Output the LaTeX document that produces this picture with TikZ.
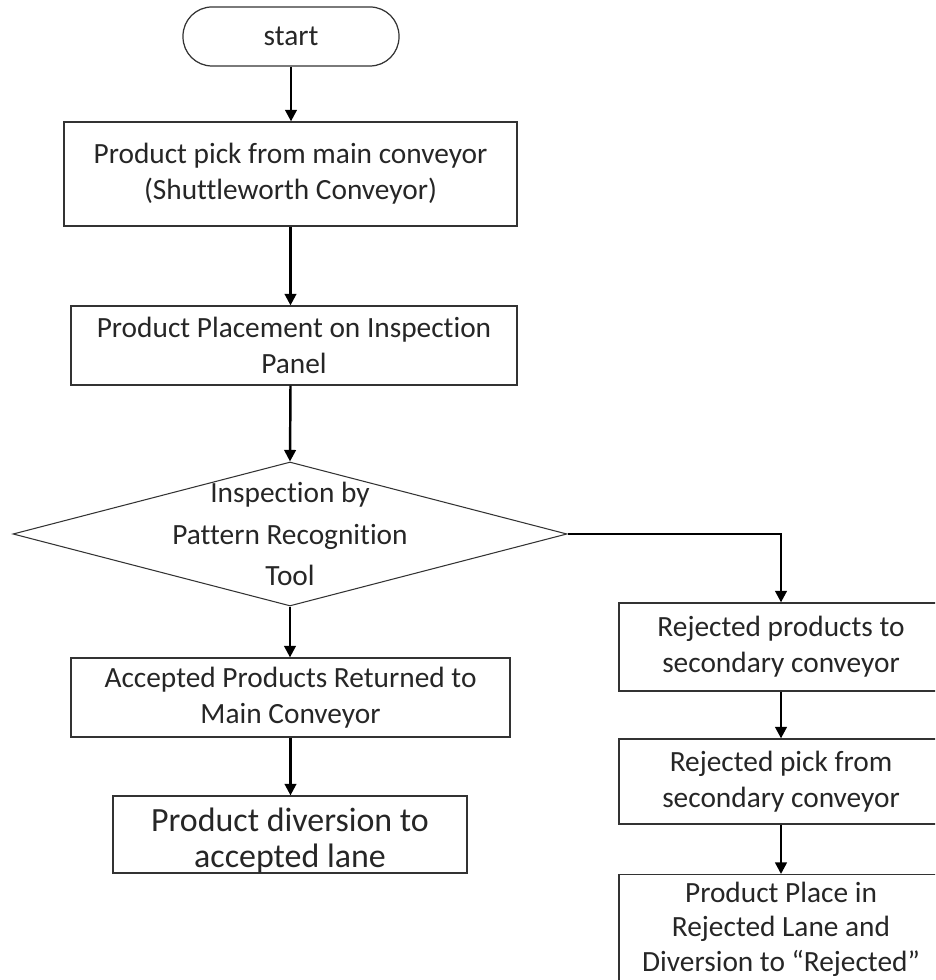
\documentclass[tikz,border=0pt]{standalone}
\usepackage{fontspec}
\setmainfont{Carlito}[RawFeature={-liga;-clig;-calt;-dlig}]
\usepackage{tikz}
\usetikzlibrary{arrows.meta}
\usetikzlibrary{shapes.geometric}
\colorlet{boxline}{black!80}
\colorlet{boxtext}{black!85}

\tikzset{
  procbox/.style={draw=boxline, line width=0.7pt, text=boxtext, align=center, inner sep=0pt,
    font=\fontsize{16.7}{20.5}\selectfont},
  termbox/.style={procbox, rounded corners=0.58cm},
  decision/.style={draw=boxline, line width=0.6pt, diamond, aspect=1, inner sep=0pt},
  flowarrow/.style={-{Triangle[width=0.23cm,length=0.23cm]}, line width=1.4pt, black},
}

\begin{document}
\begin{tikzpicture}
      \clip (0,0) rectangle (18.7,19.6);

      \node[termbox, minimum width=4.32cm, minimum height=1.18cm] (start) at (5.82,18.87) {start};

      \node[procbox, minimum width=9.06cm, minimum height=2.08cm] (pick) at (5.81,16.12)
        {Product pick from main conveyor\\(Shuttleworth Conveyor)};

      \node[procbox, minimum width=8.92cm, minimum height=1.58cm] (place) at (5.88,12.69)
        {Product Placement on Inspection\\Panel};

      \node[decision, minimum width=11.08cm, minimum height=2.88cm,
        label={[align=center, text=boxtext, font=\fontsize{16.7}{23.5}\selectfont]center:Inspection by\\Pattern Recognition\\Tool}]
        (insp) at (5.80,8.92) {};

      \node[procbox, minimum width=8.78cm, minimum height=1.58cm] (accept) at (5.81,5.65)
        {Accepted Products Returned to\\Main Conveyor};

      \node[procbox, minimum width=7.08cm, minimum height=1.54cm,
        label={[align=center, text=boxtext, yshift=-0.12cm, font=\fontsize{19.3}{21}\selectfont]center:Product diversion to\\accepted lane}]
        (divert) at (5.80,2.91) {};

      \node[procbox, minimum width=6.48cm, minimum height=1.76cm] (reject) at (15.62,6.66)
        {Rejected products to\\secondary conveyor};

      \node[procbox, minimum width=6.48cm, minimum height=1.70cm] (rpick) at (15.62,3.97)
        {Rejected pick from\\secondary conveyor};

      \node[procbox, minimum width=6.48cm, inner ysep=0.15cm, anchor=north, font=\fontsize{16.7}{19.6}\selectfont] (rplace) at (15.62,2.12)
        {Product Place in\\Rejected Lane and\\Diversion to “Rejected”\\[0.3cm]};

      \draw[flowarrow] (start.south) -- (start.south |- pick.north);
      \draw[flowarrow] (pick.south) -- (pick.south |- place.north);
      \draw[flowarrow] (pick.south |- place.south) -- (insp.north);
      \draw[flowarrow] (insp.south) -- (insp.south |- accept.north);
      \draw[flowarrow] (accept.south) -- (accept.south |- divert.north);

      \draw[flowarrow] (insp.east) -| (reject.north);
      \draw[flowarrow] (reject.south) -- (rpick.north);
      \draw[flowarrow] (rpick.south) -- (rplace.north);

    \end{tikzpicture}
\end{document}
